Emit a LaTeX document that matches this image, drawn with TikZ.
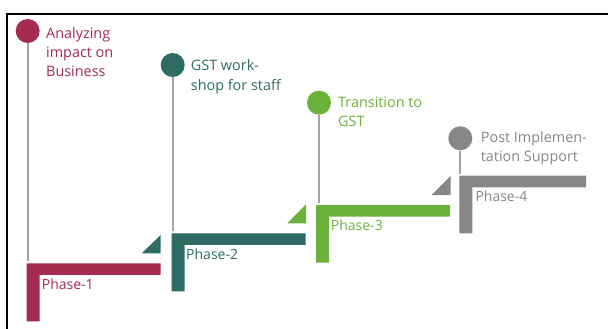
\documentclass[tikz,border=0pt]{standalone}
\usepackage{fontspec}
\setmainfont{Open Sans}
\definecolor{cA}{HTML}{A62B50}
\definecolor{cB}{HTML}{2F6B65}
\definecolor{cC}{HTML}{6AB23A}
\definecolor{cD}{HTML}{878787}
\definecolor{stemc}{HTML}{A3A3A3}
\begin{document}
\begin{tikzpicture}[x=1pt,y=-1pt,
  dot/.style={circle,fill=#1,minimum size=24,inner sep=0pt,draw=none},
  stemline/.style={draw=stemc,line width=2pt},
  title/.style={text=#1,anchor=base west,inner sep=0pt,align=left,font=\fontsize{14.4}{19.2}\selectfont},
  plabel/.style={text=#1,anchor=base west,inner sep=0pt,font=\fontsize{14}{17}\selectfont},
  bar/.style={fill=#1,draw=none},
  frame/.style={draw=black,line width=1.5pt}]
\useasboundingbox (0,0) rectangle (608,329);
\fill[white] (0,0) rectangle (608,329);
\draw[frame] (7,329) -- (7,14) -- (608,14);

% Phase 1
\fill[bar=cA] (26.7,263.3) -- (160.7,263.3) -- (160.7,274.8) -- (39.7,274.8) -- (39.7,321.3) -- (26.7,321.3) -- cycle;
\node[dot=cA] (c1) at (27.7,31) {};
\coordinate (s1) at (27.7,261);
\draw[stemline] (c1.south) -- (s1);
\node[title=cA] (t1) at (46,76.5) {Analyzing\\impact on\\Business};
\node[plabel=cA] (p1) at (41.7,289.3) {Phase-1};

% Phase 2
\fill[bar=cB] (160.7,235) -- (160.7,253.3) -- (141.7,253.3) -- cycle;
\fill[bar=cB] (171.7,233.3) -- (305.7,233.3) -- (305.7,244.8) -- (184.7,244.8) -- (184.7,291.3) -- (171.7,291.3) -- cycle;
\node[dot=cB] (c2) at (172.7,65) {};
\coordinate (s2) at (172.7,231);
\draw[stemline] (c2.south) -- (s2);
\node[title=cB] (t2) at (190.7,90) {GST work-\\shop for staff};
\node[plabel=cB] (p2) at (186,259.3) {Phase-2};

% Phase 3
\fill[bar=cC] (306,204.3) -- (306,223.3) -- (287.3,223.3) -- cycle;
\fill[bar=cC] (316,205) -- (450,205) -- (450,216.5) -- (329,216.5) -- (329,262.7) -- (316,262.7) -- cycle;
\node[dot=cC] (c3) at (319,102.7) {};
\coordinate (s3) at (319,203);
\draw[stemline] (c3.south) -- (s3);
\node[title=cC] (t3) at (338,126.7) {Transition to\\GST};
\node[plabel=cC] (p3) at (330.7,230.7) {Phase-3};

% Phase 4
\fill[bar=cD] (450.7,176) -- (450.7,195) -- (431.7,195) -- cycle;
\fill[bar=cD] (459.3,175.7) -- (586,175.7) -- (586,187.3) -- (472.3,187.3) -- (472.3,233.3) -- (459.3,233.3) -- cycle;
\node[dot=cD] (c4) at (460.3,138.3) {};
\coordinate (s4) at (460.3,173.5);
\draw[stemline] (c4.south) -- (s4);
\node[title=cD] (t4) at (480.7,161.7) {Post Implemen-\\tation Support};
\node[plabel=cD] (p4) at (475.3,201.7) {Phase-4};
\end{tikzpicture}
\end{document}
